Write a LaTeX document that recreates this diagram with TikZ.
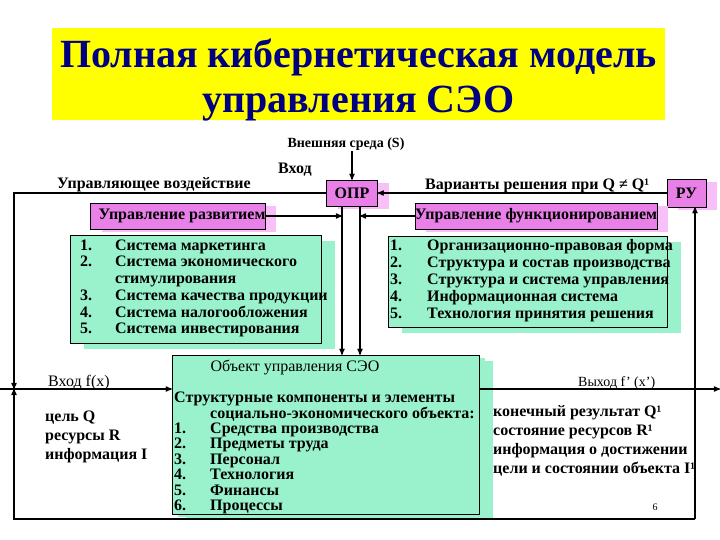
\documentclass[tikz,border=0pt]{standalone}
\usepackage{fontspec}
\setmainfont{Liberation Serif}
\usetikzlibrary{arrows, shadows}

\definecolor{ttlyellow}{RGB}{255,255,0}
\definecolor{ttlblue}{RGB}{0,0,128}
\definecolor{boxpink}{RGB}{232,128,232}
\definecolor{shadepink}{RGB}{248,192,248}
\definecolor{boxgreen}{RGB}{153,242,204}

\begin{document}
\begin{tikzpicture}[>=stealth', x=1pt, y=-1pt, inner sep=0pt,
  lbl/.style={font=\fontsize{16}{16.8}\selectfont\bfseries, anchor=base west},
  plain/.style={font=\fontsize{16}{16}\selectfont, anchor=base west},
  pinkbox/.style={draw, fill=boxpink, font=\fontsize{16}{16.8}\selectfont\bfseries,
    general shadow={fill=shadepink, shadow xshift=11pt, shadow yshift=-3pt}},
  greenbox/.style={draw, fill=boxgreen,
    general shadow={fill=boxgreen, shadow xshift=14pt, shadow yshift=-6pt}},
  titlebox/.style={text=ttlblue, align=center,
    font=\fontsize{40}{45}\selectfont\bfseries},
  link/.style={line width=1.2pt}]

\useasboundingbox (0,0) rectangle (720,540);

% title
  \node[fill=ttlyellow, minimum width=613pt, minimum height=92pt] (titlebg) at (358.5,74) {};
  \node[titlebox] (title) at (358.5,80)
{Полная кибернетическая модель\\управления СЭО};

% decision maker and regulator
  \node[lbl, font=\fontsize{14}{16}\selectfont\bfseries, anchor=base] (env) at (346,148) {Внешняя среда (S)};
  \node[lbl] (vkhod) at (278,174) {Вход};
  \node[lbl] (ctrl) at (57,189) {Управляющее воздействие};
  \node[lbl] (vars) at (425,190) {Варианты решения при Q ≠ Q¹};
  \node[pinkbox, minimum width=51pt, minimum height=26pt] (opr) at (352,193) {ОПР};
  \node[pinkbox, minimum width=39pt, minimum height=28pt] (ru) at (686.5,193) {РУ};
  \node[pinkbox, minimum width=170pt, minimum height=26pt] (razv) at (178,216)
{\hspace*{8pt}Управление развитием};
  \node[pinkbox, minimum width=238pt, minimum height=26pt] (func) at (536,216)
{Управление функционированием};

% the two lists
  \node[greenbox, minimum width=251pt, minimum height=108pt] (devbox) at (195.5,289) {};
  \node[lbl] (devlist) at (80,250) {\begin{tabular}[t]{@{}p{35pt}@{}l@{}}
1.&Система маркетинга\\
2.&Система экономического\\
&стимулирования\\
3.&Система качества продукции\\
4.&Система налогообложения\\
5.&Система инвестирования
\end{tabular}};
  \node[greenbox, minimum width=279pt, minimum height=91pt] (funbox) at (527.5,281.5) {};
  \node[lbl, font=\fontsize{16}{17.2}\selectfont\bfseries] (funlist) at (390,250)
{\begin{tabular}[t]{@{}p{37pt}@{}l@{}}
1.&Организационно-правовая форма\\
2.&Структура и состав производства\\
3.&Структура и система управления\\
4.&Информационная система\\
5.&Технология принятия решения
\end{tabular}};

% the managed object
  \node[greenbox, general shadow={fill=boxgreen, shadow xshift=6pt, shadow yshift=-3pt},
    minimum width=307pt, minimum height=159pt] (obj) at (325.5,434.5) {};
  \node[plain, anchor=base] (objttl) at (295,371) {Объект управления СЭО};
  \node[lbl, font=\fontsize{16}{15.4}\selectfont\bfseries] (objlist) at (174,402)
{\begin{tabular}[t]{@{}p{36pt}@{}l@{}}
\multicolumn{2}{@{}l@{}}{Структурные компоненты и элементы}\\
&социально-экономического объекта:\\
1.&Средства производства\\
2.&Предметы труда\\
3.&Персонал\\
4.&Технология\\
5.&Финансы\\
6.&Процессы
\end{tabular}};

% input and output
  \node[plain] (fin) at (48,386) {Вход f(x)};
  \node[plain, font=\fontsize{14}{16}\selectfont] (fout) at (578,386) {Выход f' (x')};
  \node[lbl, font=\fontsize{16}{19}\selectfont\bfseries] (goal) at (45,421)
{\begin{tabular}[t]{@{}l@{}}цель Q\\ресурсы R\\информация I\end{tabular}};
  \node[lbl, font=\fontsize{16}{19.3}\selectfont\bfseries] (result) at (493,416)
{\begin{tabular}[t]{@{}l@{}}конечный результат Q¹\\состояние ресурсов R¹\\
информация о достижении\\цели и состоянии объекта I¹\end{tabular}};
  \node[font=\fontsize{10}{12}\selectfont, anchor=base] (pagenum) at (655,510) {6};

% define the links
  \coordinate (leftin) at (14,389);
  \coordinate (leftbot) at (14,519);
  \coordinate (rightbot) at (695,519);
  \coordinate (inleft) at (0,389);
  \coordinate (outright) at (720,389);
  \coordinate (dnl) at (342,0);
  \coordinate (dnr) at (360,0);

  \draw[link, ->] (env.south -| opr.north) -- (opr.north);
  \draw[link, ->] (opr.west) -| (leftin);
  \draw[link, ->] (rightbot) -- (leftbot) -- (leftin);
  \draw[link, ->] (rightbot) -- (rightbot |- ru.south);
  \draw[link, ->] (ru.west) -- (opr.east);
  \draw[link, ->] (razv.east) -- (razv.east -| dnl);
  \draw[link, ->] (func.west) -- (func.west -| dnr);
  \draw[link, ->] (opr.south -| dnl) -- (obj.north -| dnl);
  \draw[link, ->] (opr.south -| dnr) -- (obj.north -| dnr);
  \draw[link, ->] (inleft) -- (obj.west |- inleft);
  \draw[link, ->] (obj.east |- inleft) -- (outright);

\end{tikzpicture}
\end{document}
